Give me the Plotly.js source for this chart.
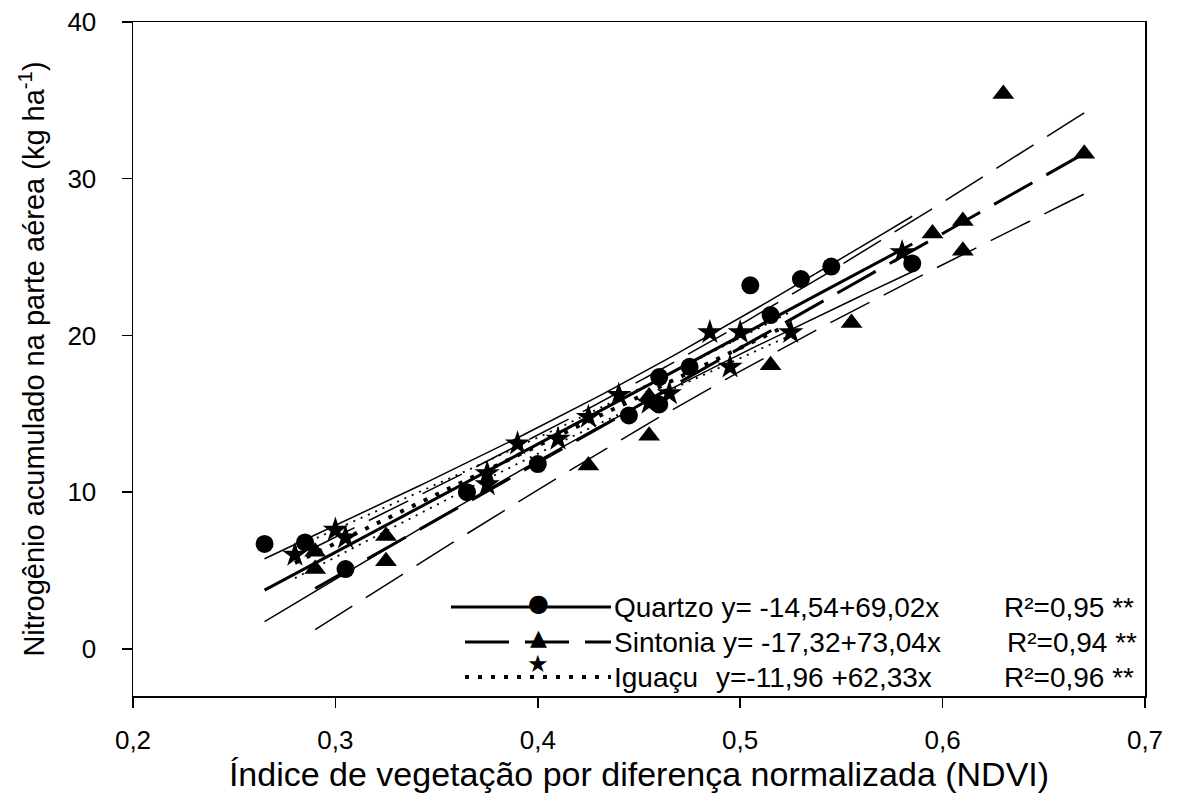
<!DOCTYPE html>
<html>
<head>
<meta charset="utf-8">
<script src="https://cdn.plot.ly/plotly-3.0.1.min.js"></script>
<style>html,body{margin:0;padding:0;background:#fff;}#chart{width:1179px;height:810px;}</style>
</head>
<body>
<div id="chart"></div>
<script>
// ---- data ----
var seriesNames = ["Quartzo", "Sintonia", "Iguaçu"];

var quartzoX = [0.265, 0.285, 0.305, 0.365, 0.400, 0.445, 0.460, 0.460, 0.475, 0.505, 0.515, 0.530, 0.545, 0.585];
var quartzoY = [6.7, 6.8, 5.1, 10.0, 11.8, 14.9, 15.6, 17.35, 18.0, 23.2, 21.3, 23.6, 24.4, 24.6];

var sintoniaX = [0.290, 0.290, 0.325, 0.325, 0.425, 0.455, 0.455, 0.515, 0.555, 0.595, 0.610, 0.610, 0.630, 0.670];
var sintoniaY = [6.2, 5.1, 7.2, 5.6, 11.7, 13.6, 16.1, 18.1, 20.8, 26.5, 27.3, 25.4, 35.4, 31.6];

var iguacuX = [0.280, 0.300, 0.305, 0.375, 0.375, 0.390, 0.410, 0.425, 0.440, 0.455, 0.465, 0.485, 0.495, 0.500, 0.525, 0.580];
var iguacuY = [6.0, 7.6, 7.1, 11.2, 10.5, 13.1, 13.4, 14.8, 16.2, 15.7, 16.3, 20.2, 18.0, 20.2, 20.2, 25.3];

// regression equations as printed in the legend
var intercepts = [-14.54, -17.32, -11.96];
var slopes = [69.02, 73.04, 62.33];
var r2Values = [0.95, 0.94, 0.96];
// x extent of each fitted line as drawn
var fitStart = [0.265, 0.290, 0.280];
var fitEnd = [0.585, 0.670, 0.525];

var xTickVals = [0.2, 0.3, 0.4, 0.5, 0.6, 0.7];
var yTickVals = [0, 10, 20, 30, 40];

// ---- build ----
var FONT = "Liberation Sans, Arial, sans-serif";
var dataX = [quartzoX, sintoniaX, iguacuX];
var dataY = [quartzoY, sintoniaY, iguacuY];
var symbols = ["circle", "triangle-up", "star"];
var markerSizes = [18, 19, 19];
var fitDash = ["solid", "44px,16px", "4px,9px"];
var fitWidth = [3, 3, 4];
var ciDash = ["solid", "44px,16px", "2px,6px"];
var ciWidth = [1.5, 1.5, 1.8];
var tTable = {12: 2.179, 13: 2.160, 14: 2.145, 15: 2.131};

var traces = [];
for (var k = 0; k < 3; k++) {
  var xs = dataX[k], ys = dataY[k], n = xs.length;
  var a = intercepts[k], b = slopes[k];
  var xbar = xs.reduce(function(s, v){return s + v;}, 0) / n;
  var sxx = 0, sse = 0;
  for (var i = 0; i < n; i++) {
    sxx += (xs[i] - xbar) * (xs[i] - xbar);
    var r = ys[i] - (a + b * xs[i]);
    sse += r * r;
  }
  var s = Math.sqrt(sse / (n - 2));
  var t = tTable[n - 2] || 2.16;
  var gx = [], gy = [], gu = [], gl = [];
  var steps = 80;
  for (var j = 0; j <= steps; j++) {
    var x = fitStart[k] + (fitEnd[k] - fitStart[k]) * j / steps;
    var y = a + b * x;
    var h = t * s * Math.sqrt(1 / n + (x - xbar) * (x - xbar) / sxx);
    gx.push(x); gy.push(y); gu.push(y + h); gl.push(y - h);
  }
  traces.push({x: gx, y: gu, mode: "lines", line: {color: "#000", width: ciWidth[k], dash: ciDash[k]}, hoverinfo: "skip", showlegend: false});
  traces.push({x: gx, y: gl, mode: "lines", line: {color: "#000", width: ciWidth[k], dash: ciDash[k]}, hoverinfo: "skip", showlegend: false});
  traces.push({x: gx, y: gy, mode: "lines", line: {color: "#000", width: fitWidth[k], dash: fitDash[k]}, hoverinfo: "skip", showlegend: false});
}
for (var k2 = 0; k2 < 3; k2++) {
  traces.push({x: dataX[k2], y: dataY[k2], mode: "markers", name: seriesNames[k2],
    marker: {symbol: symbols[k2], size: markerSizes[k2], color: "#000", line: {width: 0}}, showlegend: false});
}

function fmt(v, d) { return Math.abs(v).toFixed(d).replace(".", ","); }
var eqTexts = [
  "y= -" + fmt(intercepts[0], 2) + "+" + fmt(slopes[0], 2) + "x",
  "y= -" + fmt(intercepts[1], 2) + "+" + fmt(slopes[1], 2) + "x",
  "y=-" + fmt(intercepts[2], 2) + " +" + fmt(slopes[2], 2) + "x"
];

// legend geometry (paper coords)
var L = 133, R = 1145, T = 22, B = 696;
function px(v) { return (v - L) / (R - L); }
function py(v) { return (B - v) / (B - T); }
var rowY = [607, 642, 677];
var symY = [603, 637, 664];
var lineX0 = [451, 465, 465], lineX1 = 611;
var glyphs = ["●", "▲", "★"];
var glyphSize = [24, 22, 24];
var LEGFONT = 28;

var shapes = [], annotations = [];
for (var r2 = 0; r2 < 3; r2++) {
  shapes.push({type: "line", xref: "paper", yref: "paper", x0: px(lineX0[r2]), x1: px(lineX1), y0: py(rowY[r2]), y1: py(rowY[r2]),
    line: {color: "#000", width: fitWidth[r2], dash: fitDash[r2]}});
  annotations.push({xref: "paper", yref: "paper", x: px(538), y: py(symY[r2]), text: glyphs[r2], showarrow: false,
    xanchor: "center", yanchor: "middle", font: {family: "DejaVu Sans", size: glyphSize[r2], color: "#000"}});
  var nameText = seriesNames[r2] + (r2 === 2 ? "" : " " + eqTexts[r2]);
  annotations.push({xref: "paper", yref: "paper", x: px(612), y: py(rowY[r2]), text: nameText, showarrow: false,
    xanchor: "left", yanchor: "middle", font: {family: FONT, size: LEGFONT, color: "#000"}});
  if (r2 === 2) {
    annotations.push({xref: "paper", yref: "paper", x: px(714), y: py(rowY[r2]), text: eqTexts[2], showarrow: false,
      xanchor: "left", yanchor: "middle", font: {family: FONT, size: LEGFONT, color: "#000"}});
  }
  annotations.push({xref: "paper", yref: "paper", x: px(r2 === 1 ? 1005 : 1002), y: py(rowY[r2]),
    text: "R²=" + fmt(r2Values[r2], 2) + " **", showarrow: false,
    xanchor: "left", yanchor: "middle", font: {family: FONT, size: LEGFONT, color: "#000"}});
}

var layout = {
  width: 1179, height: 810,
  margin: {l: 133, r: 34, t: 22, b: 114, pad: 0},
  paper_bgcolor: "#fff", plot_bgcolor: "#fff",
  separators: ",.",
  font: {family: FONT, color: "#000"},
  showlegend: false,
  xaxis: {
    range: [0.2, 0.7], tickvals: xTickVals, tickformat: ".1f",
    ticks: "outside", ticklen: 10, tickwidth: 1.5, tickcolor: "#000",
    showline: true, linecolor: "#000", linewidth: 1.5, mirror: true,
    showgrid: false, zeroline: false, ticklabelstandoff: 10,
    tickfont: {family: FONT, size: 26, color: "#000"},
    title: {text: "Índice de vegetação por diferença normalizada (NDVI)", font: {family: FONT, size: 34, color: "#000"}, standoff: 8}
  },
  yaxis: {
    range: [-3, 40], tickvals: yTickVals,
    ticks: "outside", ticklen: 10, tickwidth: 1.5, tickcolor: "#000",
    showline: true, linecolor: "#000", linewidth: 1.5, mirror: true,
    showgrid: false, zeroline: false, ticklabelstandoff: 20,
    tickfont: {family: FONT, size: 26, color: "#000"},
    title: {text: "Nitrogênio acumulado na parte aérea (kg ha<sup>-1</sup>)", font: {family: FONT, size: 29, color: "#000"}, standoff: 14}
  },
  shapes: shapes,
  annotations: annotations
};

Plotly.newPlot("chart", traces, layout, {displayModeBar: false, staticPlot: true});
</script>
</body>
</html>
